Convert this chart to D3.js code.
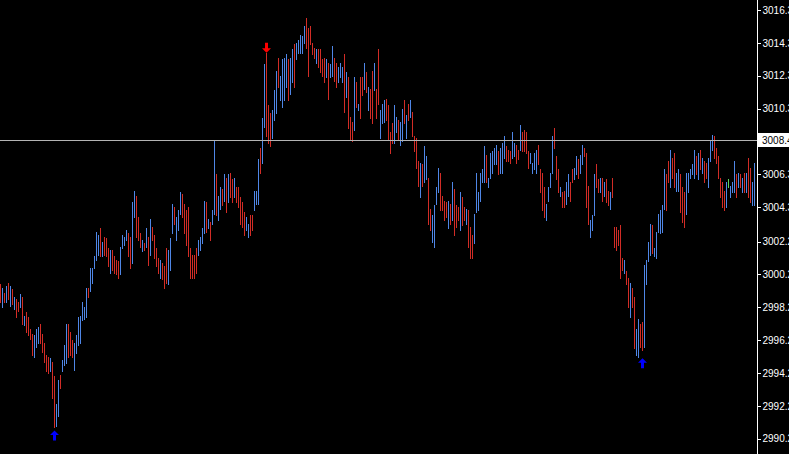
<!DOCTYPE html>
<html lang="en">
<head>
    <meta charset="UTF-8">
    <script src="https://d3js.org/d3.v7.min.js"></script>
    <title>price bars</title>
    <style>
        body { margin: 0; background: #000; }
        svg { display: block; }
    </style>
</head>
<body>
    <script>
        // bar highs (378 bars, left to right)
        const highs = [
            2999.6, 2999.4, 2999.1, 2999.5, 2999.7, 2999.5, 2999.3, 2998.8, 2998.7, 2998.5,
            2999.0, 2998.8, 2997.7, 2997.9, 2997.6, 2996.9, 2996.6, 2996.5, 2996.9, 2997.0,
            2997.2, 2996.6, 2996.0, 2995.3, 2995.2, 2995.1, 2994.9, 2994.0, 2992.3, 2993.8,
            2994.1, 2995.0, 2995.9, 2997.2, 2997.2, 2996.7, 2996.2, 2996.0, 2996.5, 2997.6,
            2997.7, 2998.5, 2998.2, 2999.4, 2999.4, 3000.6, 3000.6, 3001.3, 3002.8, 3002.6,
            3003.0, 3002.2, 3002.5, 3002.4, 3001.8, 3001.7, 3001.7, 3001.3, 3001.1, 3001.0,
            3001.9, 3002.6, 3002.5, 3002.9, 3002.7, 3002.5, 3004.6, 3005.3, 3005.0, 3003.7,
            3002.7, 3002.3, 3002.1, 3003.0, 3002.5, 3003.6, 3003.1, 3002.6, 3001.8, 3001.2,
            3001.1, 3000.9, 3000.7, 3001.8, 3001.7, 3002.4, 3004.5, 3004.3, 3003.7, 3004.1,
            3005.2, 3005.1, 3004.5, 3004.1, 3004.3, 3001.8, 3001.4, 3001.4, 3001.8, 3002.3,
            3002.5, 3003.0, 3004.7, 3004.6, 3003.6, 3003.4, 3004.1, 3008.4, 3006.3, 3005.0,
            3005.5, 3005.4, 3006.3, 3006.1, 3006.3, 3006.4, 3006.0, 3006.1, 3005.5, 3005.5,
            3004.9, 3004.6, 3004.0, 3003.7, 3003.3, 3003.8, 3003.8, 3005.3, 3005.3, 3007.2,
            3007.9, 3009.7, 3013.0, 3013.7, 3010.5, 3010.0, 3010.2, 3011.4, 3012.6, 3013.4,
            3012.3, 3013.3, 3013.4, 3013.6, 3013.3, 3013.4, 3013.9, 3014.2, 3014.3, 3014.5,
            3014.8, 3014.7, 3015.3, 3015.8, 3015.2, 3015.3, 3014.3, 3014.0, 3013.9, 3013.9,
            3013.9, 3013.3, 3013.4, 3013.3, 3013.1, 3013.0, 3014.1, 3013.4, 3013.1, 3012.8,
            3013.1, 3012.8, 3013.6, 3012.5, 3012.2, 3009.8, 3009.5, 3012.2, 3011.9, 3010.6,
            3012.2, 3012.2, 3013.1, 3012.5, 3011.6, 3011.5, 3012.6, 3013.1, 3011.5, 3013.9,
            3010.2, 3010.6, 3010.8, 3010.9, 3010.5, 3008.9, 3009.4, 3010.5, 3009.8, 3009.6,
            3009.5, 3010.3, 3010.8, 3009.9, 3010.6, 3010.8, 3010.1, 3008.6, 3008.5, 3007.1,
            3007.0, 3006.9, 3008.0, 3007.4, 3006.1, 3004.2, 3003.8, 3004.4, 3005.5, 3006.7,
            3006.4, 3005.0, 3004.7, 3004.6, 3004.7, 3004.5, 3005.8, 3005.4, 3004.4, 3004.3,
            3005.2, 3004.9, 3004.3, 3004.2, 3004.1, 3003.1, 3002.6, 3003.9, 3006.4, 3005.2,
            3006.4, 3006.6, 3008.0, 3007.5, 3006.1, 3007.6, 3007.7, 3007.9, 3008.1, 3007.7,
            3007.9, 3008.2, 3008.6, 3008.0, 3007.8, 3007.7, 3008.9, 3008.2, 3008.1, 3007.8,
            3009.3, 3008.9, 3009.0, 3008.9, 3007.7, 3007.6, 3007.0, 3007.6, 3007.8, 3008.1,
            3006.6, 3006.4, 3005.5, 3004.5, 3005.5, 3006.4, 3008.6, 3009.1, 3007.4, 3006.6,
            3005.5, 3005.2, 3005.3, 3005.8, 3006.3, 3005.8, 3006.6, 3006.7, 3007.4, 3007.2,
            3007.5, 3008.1, 3007.9, 3007.6, 3005.6, 3003.5, 3003.8, 3006.3, 3006.9, 3006.0,
            3006.1, 3006.1, 3005.8, 3006.0, 3005.3, 3005.2, 3006.1, 3003.1, 3003.1, 3002.9,
            3003.2, 3001.2, 3001.1, 3000.4, 3000.0, 2999.7, 2999.4, 2998.8, 2996.9, 2997.5,
            2997.2, 2997.3, 3000.8, 3001.1, 3002.2, 3003.3, 3003.2, 3001.8, 3002.8, 3003.9,
            3004.1, 3004.4, 3006.6, 3006.3, 3007.1, 3007.8, 3007.3, 3007.6, 3006.4, 3006.6,
            3006.3, 3005.5, 3005.2, 3006.4, 3006.4, 3006.6, 3006.9, 3007.8, 3007.4, 3007.6,
            3007.8, 3007.3, 3007.1, 3007.0, 3007.3, 3008.4, 3008.7, 3008.6, 3007.9, 3007.4,
            3006.1, 3005.8, 3005.3, 3005.8, 3006.0, 3005.6, 3005.8, 3007.1, 3006.3, 3006.4,
            3006.3, 3006.1, 3006.4, 3006.4, 3007.3, 3006.7, 3005.8, 3007.0
        ];
        // bar lows
        const lows = [
            2998.5, 2998.2, 2998.5, 2998.5, 2998.7, 2998.3, 2998.4, 2998.1, 2997.6, 2998.0,
            2998.2, 2997.2, 2997.1, 2996.7, 2996.5, 2996.3, 2995.3, 2995.2, 2995.8, 2996.0,
            2996.0, 2995.5, 2994.9, 2994.3, 2994.2, 2994.3, 2992.7, 2990.9, 2991.0, 2991.6,
            2993.3, 2994.3, 2994.7, 2994.8, 2995.2, 2995.3, 2995.2, 2994.4, 2995.4, 2995.9,
            2996.0, 2997.4, 2997.5, 2997.6, 2998.8, 2999.2, 2999.7, 3000.6, 3001.1, 3001.4,
            3001.3, 3001.3, 3001.4, 3001.3, 3000.7, 3000.3, 3000.5, 3000.3, 3000.2, 3000.0,
            3000.2, 3001.8, 3002.0, 3002.3, 3001.3, 3000.6, 3000.9, 3003.7, 3002.5, 3002.3,
            3001.9, 3001.6, 3001.7, 3001.9, 3000.8, 3001.4, 3002.3, 3001.2, 3000.7, 3000.3,
            3000.0, 2999.9, 2999.4, 2999.7, 2999.6, 3000.5, 3002.7, 3003.3, 3002.3, 3002.9,
            3003.9, 3003.7, 3002.7, 3002.0, 3001.3, 3000.0, 3000.0, 3000.0, 3000.3, 3001.4,
            3001.7, 3002.1, 3002.7, 3002.8, 3003.0, 3002.3, 3003.3, 3003.9, 3003.8, 3003.5,
            3004.2, 3004.4, 3004.7, 3004.0, 3004.6, 3004.9, 3004.6, 3004.9, 3004.6, 3004.3,
            3003.3, 3003.1, 3002.6, 3002.9, 3002.5, 3002.6, 3002.9, 3004.1, 3004.5, 3004.5,
            3006.4, 3007.0, 3009.2, 3008.6, 3008.2, 3008.0, 3008.5, 3009.6, 3010.0, 3011.6,
            3010.8, 3010.4, 3010.8, 3011.6, 3010.8, 3011.2, 3011.9, 3011.6, 3013.3, 3013.7,
            3013.7, 3013.7, 3014.3, 3014.0, 3012.3, 3014.2, 3013.6, 3013.4, 3013.1, 3012.8,
            3012.5, 3012.3, 3011.9, 3012.2, 3010.9, 3012.2, 3012.3, 3012.0, 3011.6, 3011.9,
            3012.2, 3011.9, 3010.1, 3011.0, 3009.1, 3008.4, 3008.3, 3009.0, 3010.4, 3010.2,
            3009.7, 3011.1, 3011.5, 3011.3, 3010.2, 3009.7, 3009.4, 3011.4, 3009.7, 3010.6,
            3008.5, 3009.4, 3009.5, 3009.6, 3008.4, 3007.6, 3008.2, 3008.2, 3008.9, 3008.4,
            3008.1, 3008.3, 3009.4, 3008.5, 3009.6, 3009.8, 3008.6, 3007.7, 3006.7, 3005.6,
            3004.9, 3005.6, 3005.8, 3006.0, 3003.3, 3002.9, 3002.2, 3001.9, 3004.5, 3005.2,
            3004.1, 3004.1, 3003.5, 3003.7, 3003.0, 3003.3, 3003.5, 3002.6, 3003.1, 3003.5,
            3002.9, 3003.2, 3003.5, 3003.3, 3001.9, 3001.2, 3001.2, 3002.1, 3004.0, 3004.1,
            3004.7, 3005.8, 3005.8, 3005.8, 3005.5, 3006.1, 3006.4, 3006.9, 3006.9, 3006.3,
            3006.4, 3006.4, 3007.3, 3007.1, 3007.1, 3007.0, 3007.3, 3007.4, 3007.0, 3007.2,
            3007.8, 3007.7, 3007.7, 3007.6, 3006.7, 3007.0, 3006.4, 3006.6, 3006.4, 3006.9,
            3005.2, 3004.1, 3003.7, 3003.5, 3004.7, 3005.5, 3006.4, 3007.9, 3006.0, 3005.2,
            3005.0, 3004.3, 3004.3, 3004.5, 3005.0, 3004.7, 3005.8, 3006.0, 3006.3, 3006.1,
            3006.4, 3006.9, 3007.4, 3004.3, 3003.3, 3002.5, 3002.9, 3003.8, 3005.5, 3005.2,
            3005.2, 3004.7, 3005.0, 3004.6, 3004.4, 3004.2, 3004.9, 3001.9, 3001.7, 3002.0,
            3000.0, 3000.5, 3000.3, 2999.6, 2998.2, 2997.6, 2998.2, 2995.7, 2995.3, 2995.2,
            2995.8, 2995.6, 2995.8, 2999.6, 3001.0, 3001.4, 3001.5, 3001.3, 3001.2, 3002.8,
            3002.7, 3002.8, 3004.2, 3004.1, 3005.8, 3005.5, 3006.1, 3005.5, 3005.3, 3005.3,
            3004.0, 3003.4, 3003.1, 3003.9, 3005.2, 3006.1, 3006.3, 3006.1, 3006.3, 3006.0,
            3006.6, 3006.4, 3005.8, 3006.1, 3005.5, 3007.1, 3007.8, 3007.3, 3007.0, 3006.1,
            3004.9, 3004.3, 3004.1, 3004.3, 3005.5, 3004.9, 3005.2, 3005.2, 3004.9, 3005.5,
            3005.5, 3005.2, 3005.2, 3005.2, 3004.9, 3004.6, 3004.4, 3004.4
        ];
        // b = bull bar, r = bear bar, g = doji
        const moves = [
            'rbrbrbrbrr', 'brbrrrrbbb', 'rrrrrbrrbb', 'rbbbrrrbbb', 'bbbbrbbbbb',
            'rbrrrbrrrr', 'bbbbrrbbrr', 'rbrbrbrrrr', 'brrrbbbrbb', 'brrrrrrrrb',
            'bbbrbrbbrb', 'brbrbrrbrr', 'rrrbbrrbbb', 'rbbrrrbbbr', 'bbbbrbbrbb',
            'bbbrrrrrbr', 'rrrbrbbrrb', 'bbrbrrrbrb', 'rrbrbrrbrr', 'bbbrrrrbbr',
            'bbrbrbrrrr', 'brbbrrbbbb', 'rrrrbrbrrr', 'brrbrrrbbb', 'bbbrbbbbbr',
            'bbbrrrbbrr', 'brrrrbbbbr', 'rrrbbbbrrr', 'brrbbrrbbr', 'bbrrrbbbrr',
            'brbrrbrrrr', 'rrbrrbrrbb', 'rrbbbbrbbb', 'bbbrrbrrbb', 'rrrbbbbbrb',
            'rbrrbbbrrr', 'rrrbgbbbrb', 'rbrbrrbb'
        ].join('').split('');

        const priceTicks = [3016.3, 3014.3, 3012.3, 3010.3, 3006.3, 3004.3, 3002.2,
                            3000.2, 2998.2, 2996.2, 2994.2, 2992.2, 2990.2];
        const lastPrice = 3008.4;

        // fractal arrows: bar index, direction and price at the arrow tip
        const arrowBars = [27, 133, 321];
        const arrowDirs = ['up', 'down', 'up'];
        const arrowPrices = [2990.7, 3013.7, 2995.1];

        const width = 789, height = 454;
        const axisX = 757;
        const barColor = { b: '#4f86e6', r: '#d22c26', g: '#5cd65c' };

        const n = Math.min(highs.length, lows.length, moves.length);
        const bars = d3.range(n).map(i => ({ i: i, h: highs[i], l: lows[i], m: moves[i] }));

        // 2px per bar, bars on even pixel columns
        const x = d3.scaleLinear().domain([0, 377]).range([0, 754]);
        const y = d3.scaleLinear().domain([2990.2, 3016.3]).range([438.7, 10]);

        const svg = d3.select('body').append('svg')
            .attr('width', width)
            .attr('height', height)
            .style('background', '#000');

        // price bars, one path per colour
        const bx = d => Math.round(x(d.i));
        const byH = d => Math.round(y(d.h));
        const byL = d => Math.round(y(d.l)) + 1;
        const groups = d3.group(bars, d => d.m);
        svg.append('g')
            .attr('class', 'bars')
            .selectAll('path')
            .data(Array.from(groups))
            .enter()
            .append('path')
            .attr('d', ([m, list]) => list.map(d =>
                'M' + bx(d) + ',' + byH(d) + 'h1V' + byL(d) + 'h-1Z').join(''))
            .attr('fill', ([m]) => barColor[m])
            .attr('shape-rendering', 'crispEdges');

        // last price line
        const yLast = Math.round(y(lastPrice)) + 0.5;
        svg.append('line')
            .attr('x1', 0).attr('x2', axisX)
            .attr('y1', yLast).attr('y2', yLast)
            .attr('stroke', '#b4b4b4')
            .attr('shape-rendering', 'crispEdges');

        // arrows
        const upPath = 'M0,0 L4.5,4.5 L1.5,4.5 L1.5,10 L-1.5,10 L-1.5,4.5 L-4.5,4.5 Z';
        svg.append('g')
            .selectAll('path')
            .data(arrowBars)
            .enter()
            .append('path')
            .attr('d', upPath)
            .attr('fill', (d, k) => arrowDirs[k] == 'up' ? '#0000ff' : '#ff0000')
            .attr('transform', (d, k) => {
                let cx = Math.round(x(d)) + 0.5;
                let cy = y(arrowPrices[k]);
                if (arrowDirs[k] == 'up') return 'translate(' + cx + ',' + cy + ')';
                return 'translate(' + cx + ',' + cy + ') rotate(180)';
            });

        // price axis on the right
        const axis = d3.axisRight(y)
            .tickValues(priceTicks)
            .tickFormat(d3.format('.1f'))
            .tickSize(3)
            .tickSizeOuter(0)
            .tickPadding(2);

        const gAxis = svg.append('g')
            .attr('transform', 'translate(' + (axisX + 0.5) + ',0)')
            .call(axis);
        gAxis.select('.domain').remove();
        gAxis.selectAll('line').attr('stroke', '#fff').attr('shape-rendering', 'crispEdges');
        gAxis.selectAll('text')
            .attr('fill', '#fff')
            .attr('font-family', '"Liberation Sans", Arial, sans-serif')
            .attr('font-size', '10px');

        svg.append('line')
            .attr('x1', axisX + 0.5).attr('x2', axisX + 0.5)
            .attr('y1', 0).attr('y2', height)
            .attr('stroke', '#fff')
            .attr('shape-rendering', 'crispEdges');

        // last price label
        svg.append('rect')
            .attr('x', axisX + 1)
            .attr('y', yLast - 7.5)
            .attr('width', width - axisX)
            .attr('height', 14)
            .attr('fill', '#fff');
        svg.append('text')
            .attr('x', axisX + 5)
            .attr('y', yLast)
            .attr('dy', '0.35em')
            .attr('fill', '#000')
            .attr('font-family', '"Liberation Sans", Arial, sans-serif')
            .attr('font-size', '10px')
            .text(d3.format('.1f')(lastPrice));
    </script>
</body>
</html>
